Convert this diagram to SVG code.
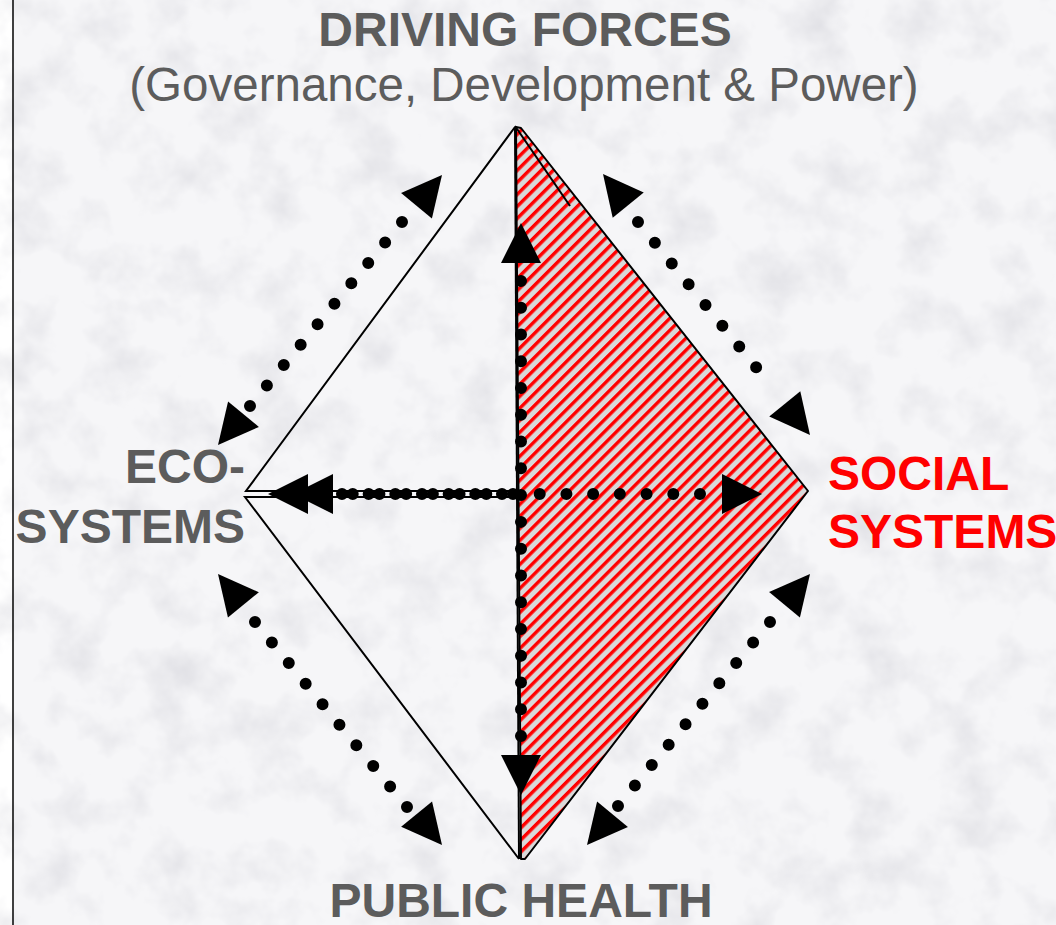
<svg xmlns="http://www.w3.org/2000/svg" xmlns:xlink="http://www.w3.org/1999/xlink" width="1056" height="925" viewBox="0 0 1056 925">
  <style>
    .lbl { font-family: "Liberation Sans", Arial, sans-serif; font-weight: bold; font-size: 48px; fill: #5c5c5c; }
    .sub { font-family: "Liberation Sans", Arial, sans-serif; font-weight: normal; font-size: 47.5px; fill: #5c5c5c; }
    .red { fill: #ff0000; }
    .edge { fill: none; stroke: #000; stroke-width: 2; stroke-linejoin: miter; }
    .dots { fill: none; stroke: #000; stroke-width: 12; stroke-linecap: round; stroke-dasharray: 0 1; }
    .ah { fill: #000; }
  </style>
  <defs>
    <pattern id="hatch" patternUnits="userSpaceOnUse" width="8.5" height="8.5" patternTransform="rotate(-45)">
      <rect x="0" y="0" width="8.5" height="8.5" fill="#d9d9d9"/>
      <rect x="0" y="0" width="8.5" height="3.4" fill="#ff0000"/>
    </pattern>
    <filter id="tex" filterUnits="userSpaceOnUse" x="0" y="0" width="1056" height="925">
      <feTurbulence type="fractalNoise" baseFrequency="0.02" numOctaves="4" seed="7" result="n"/>
      <feColorMatrix in="n" type="matrix" values="0 0 0 0 0.6  0 0 0 0 0.6  0 0 0 0 0.65  1.0 0 0 0 -0.45"/>
    </filter>
    <path id="ah" d="M0,0 L-40,-20 L-40,20 Z"/>
  </defs>

  <!-- background -->
  <rect x="0" y="0" width="1056" height="925" fill="#ffffff"/>
  <rect x="14" y="0" width="1042" height="925" fill="#f6f6f8"/>
  <rect x="14" y="0" width="1042" height="925" fill="#ffffff" filter="url(#tex)"/>
  <line x1="13" y1="0" x2="13" y2="925" stroke="#000" stroke-width="1.5"/>

  <!-- nodes -->
  <g id="node-driving-forces">
    <text class="lbl" x="525" y="46" text-anchor="middle">DRIVING FORCES</text>
    <text class="sub" x="524" y="101" text-anchor="middle">(Governance, Development &amp; Power)</text>
  </g>
  <g id="node-ecosystems">
    <text class="lbl" x="245" y="483" text-anchor="end">ECO-</text>
    <text class="lbl" x="245" y="543" text-anchor="end">SYSTEMS</text>
  </g>
  <g id="node-social-systems">
    <text class="lbl red" x="828" y="490">SOCIAL</text>
    <text class="lbl red" x="828" y="548">SYSTEMS</text>
  </g>
  <g id="node-public-health">
    <text class="lbl" x="521" y="917" text-anchor="middle">PUBLIC HEALTH</text>
  </g>

  <!-- pyramid shapes -->
  <g id="node-pyramid">
    <path d="M516,127 L521,128 L808,491 L525,859 L521,859 Z" fill="url(#hatch)" stroke="#000" stroke-width="2" stroke-linejoin="round"/>
    <path class="edge" d="M515,126 L570,206"/>
    <path class="edge" d="M515,127 L246,491 L518,491"/>
    <path class="edge" d="M519,859 L245,497 L518,497"/>
    <path class="edge" d="M515,127 L519,859"/>
  </g>

  <!-- connectors -->
  <g id="connectors">
    <!-- top-left: eco <-> driving -->
    <path class="dots" d="M250,406 L402,222" pathLength="9"/>
    <use xlink:href="#ah" class="ah" transform="translate(442,175) rotate(-50.4)"/>
    <use xlink:href="#ah" class="ah" transform="translate(218,445) rotate(129.6)"/>
    <!-- top-right: driving <-> social -->
    <path class="dots" d="M638,222 L773,388" pathLength="8"/>
    <use xlink:href="#ah" class="ah" transform="translate(603,174) rotate(230.9)"/>
    <use xlink:href="#ah" class="ah" transform="translate(810,435) rotate(50.9)"/>
    <!-- bottom-left: eco <-> health -->
    <path class="dots" d="M255,622 L407,807" pathLength="9"/>
    <use xlink:href="#ah" class="ah" transform="translate(218,574) rotate(230.6)"/>
    <use xlink:href="#ah" class="ah" transform="translate(442,845) rotate(50.6)"/>
    <!-- bottom-right: social <-> health -->
    <path class="dots" d="M770,622 L618,806" pathLength="9"/>
    <use xlink:href="#ah" class="ah" transform="translate(810,574) rotate(-50.4)"/>
    <use xlink:href="#ah" class="ah" transform="translate(587,845) rotate(129.6)"/>
    <!-- vertical: driving <-> health -->
    <path class="dots" d="M521,281 L521,736" pathLength="17"/>
    <use xlink:href="#ah" class="ah" transform="translate(521,223) rotate(-90)"/>
    <use xlink:href="#ah" class="ah" transform="translate(521,795) rotate(90)"/>
    <!-- horizontal: eco <-> social -->
    <path class="dots" d="M326,494 L700,494" pathLength="14"/>
    <path class="dots" d="M342,494 L502,494" pathLength="6"/>
    <use xlink:href="#ah" class="ah" transform="translate(762,494)"/>
    <use xlink:href="#ah" class="ah" transform="translate(293,494) rotate(180)"/>
    <use xlink:href="#ah" class="ah" transform="translate(268,494) rotate(180)"/>
  </g>
</svg>
